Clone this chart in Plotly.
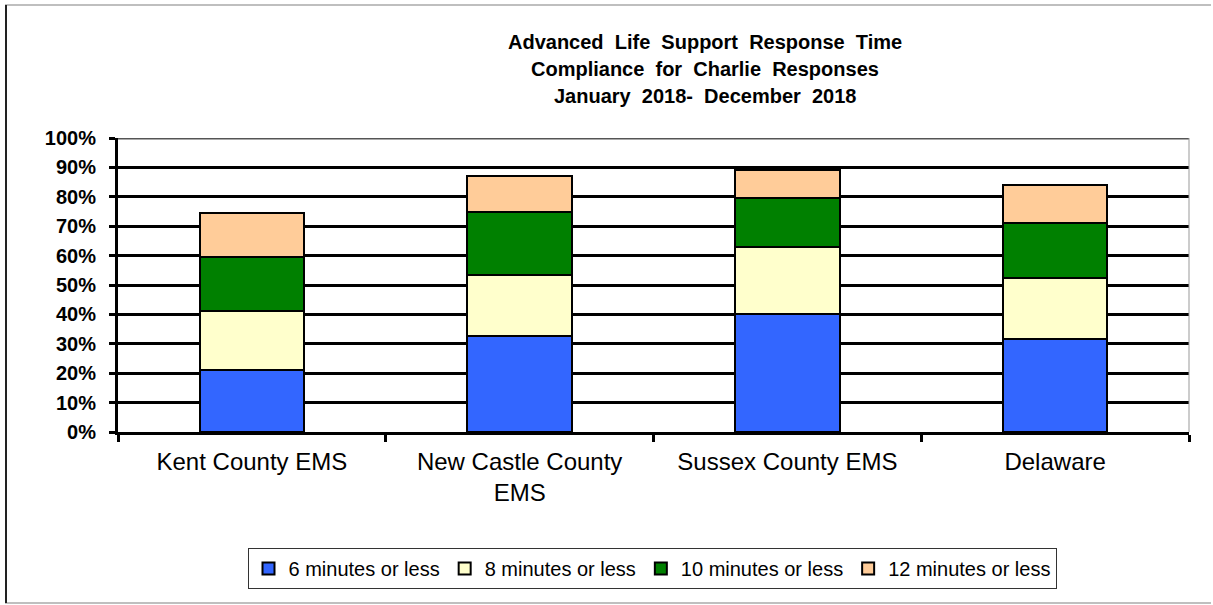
import plotly.graph_objects as go

categories = ["Kent County EMS", "New Castle County<br>EMS", "Sussex County EMS", "Delaware"]
series_names = ["6 minutes or less", "8 minutes or less", "10 minutes or less", "12 minutes or less"]
# cumulative compliance (%)
six_min = [21, 32.5, 40, 31.5]
eight_min = [41, 53.5, 63, 52.5]
ten_min = [59.5, 75, 79.5, 71]
twelve_min = [74.5, 87, 89, 84]
colors = ["#3366FF", "#FFFFCC", "#008000", "#FFCC99"]
y_ticks = [0, 10, 20, 30, 40, 50, 60, 70, 80, 90, 100]
y_tick_labels = [f"{v}%" for v in y_ticks]
title_lines = ["Advanced\u00a0 Life\u00a0 Support\u00a0 Response\u00a0 Time",
               "Compliance\u00a0 for\u00a0 Charlie\u00a0 Responses",
               "January\u00a0 2018-\u00a0 December\u00a0 2018"]

cumulative = [six_min, eight_min, ten_min, twelve_min]
W, H = 1213, 605
L, R, T, B = 118, 1189, 138, 432
FONT = "Arial, Liberation Sans, sans-serif"

fig = go.Figure()
prev = [0] * len(categories)
for name, cum, col in zip(series_names, cumulative, colors):
    seg = [c - p for c, p in zip(cum, prev)]
    fig.add_trace(go.Bar(x=categories, y=seg, name=name,
                         marker=dict(color=col, line=dict(color="black", width=2)),
                         width=0.39))
    prev = cum


def px_x(x):
    return (x - L) / (R - L)


def px_y(y):
    return (B - y) / (B - T)


shapes = [
    dict(type="line", xref="paper", yref="y", x0=0, x1=1, y0=100, y1=100,
         line=dict(color="#555555", width=3), layer="above"),
    dict(type="line", xref="paper", yref="paper", x0=1, x1=1, y0=0, y1=1,
         line=dict(color="#999999", width=1), layer="above"),
    # outer frame
    dict(type="line", xref="paper", yref="paper", x0=px_x(5), x1=px_x(1211), y0=px_y(5), y1=px_y(5),
         line=dict(color="#AAAAAA", width=1.5)),
    dict(type="line", xref="paper", yref="paper", x0=px_x(5), x1=px_x(1211), y0=px_y(603), y1=px_y(603),
         line=dict(color="#AAAAAA", width=1.5)),
    dict(type="line", xref="paper", yref="paper", x0=px_x(6), x1=px_x(6), y0=px_y(5), y1=px_y(603),
         line=dict(color="#222222", width=2)),
]

annotations = []
for i, line in enumerate(title_lines):
    annotations.append(dict(text="<b>" + line + "</b>", xref="paper", yref="paper",
                            x=px_x(705), y=px_y(41.5 + 27 * i), xanchor="center", yanchor="middle",
                            showarrow=False, font=dict(family=FONT, size=20, color="black")))

fig.update_layout(
    width=W, height=H,
    margin=dict(l=L, r=W - R, t=T, b=H - B, pad=0),
    paper_bgcolor="white", plot_bgcolor="white",
    barmode="stack",
    font=dict(family=FONT, color="black"),
    showlegend=True,
    legend=dict(orientation="h", x=px_x(652), y=px_y(568.5), xanchor="center", yanchor="middle",
                bordercolor="#333333", borderwidth=1, bgcolor="white",
                font=dict(size=20, family=FONT, color="black"),
                traceorder="normal", itemwidth=30),
    shapes=shapes,
    annotations=annotations,
)
fig.update_yaxes(range=[0, 100], tickmode="array", tickvals=y_ticks, ticktext=y_tick_labels,
                 showgrid=True, gridcolor="black", gridwidth=3,
                 showline=True, linecolor="black", linewidth=3,
                 ticks="outside", ticklen=6, tickwidth=3, tickcolor="black",
                 tickfont=dict(size=20, family=FONT, color="black", weight="bold"),
                 ticklabelstandoff=9, zeroline=False, fixedrange=True)
fig.update_xaxes(showline=True, linecolor="black", linewidth=3,
                 ticks="outside", tickson="boundaries", ticklen=7, tickwidth=3, tickcolor="black",
                 tickfont=dict(size=24, family=FONT, color="black"),
                 ticklabelstandoff=6, fixedrange=True)

fig.write_html("out.html", config={"displayModeBar": False},
               post_script="document.body.style.margin='0px';")
